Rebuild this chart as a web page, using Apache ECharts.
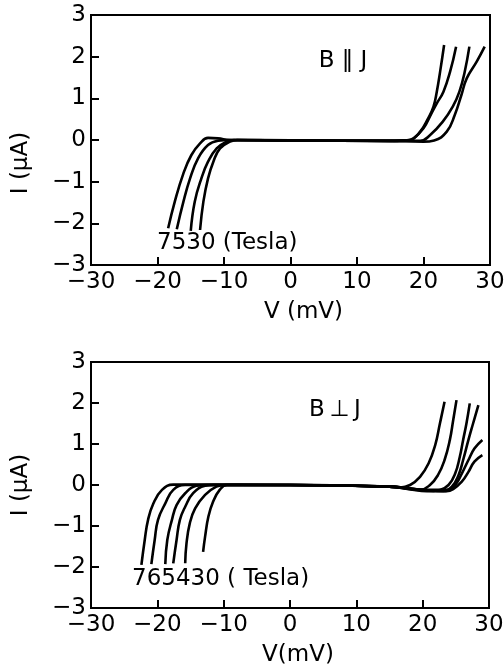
<!DOCTYPE html>
<html>
<head>
<meta charset="utf-8">
<script src="https://cdn.jsdelivr.net/npm/echarts@6/dist/echarts.min.js"></script>
<style>
html,body{margin:0;padding:0;background:#fff;}
#charts{width:504px;height:664px;}
</style>
</head>
<body>
<div id="charts"></div>
<script>
// B || J  (field in Tesla), points are [V (mV), I (uA)]
let par7 = [[-18.4,-2.12],[-17.4,-1.48],[-16.1,-0.8],[-14.9,-0.36],[-13.6,-0.08],[-12.4,0.05],[-10.9,0.04],[-9.1,0],[0,-0.01],[15,-0.02],[20.0,-0.04],[21.6,-0.01],[23.5,0.2],[24.7,0.6],[25.7,1.08],[26.5,1.48],[28.0,1.88],[29.2,2.24]];
let par5 = [[-17.1,-2.14],[-16.1,-1.48],[-15.1,-0.92],[-13.9,-0.44],[-12.4,-0.12],[-10.9,-0.02],[-9.1,0],[0,-0.01],[15,-0.02],[19.5,-0.02],[21.0,0.12],[22.9,0.44],[24.4,0.8],[25.4,1.16],[26.2,1.64],[26.9,2.24]];
let par3 = [[-15.0,-2.18],[-14.4,-1.48],[-13.4,-0.92],[-12.4,-0.52],[-11.1,-0.2],[-9.6,-0.04],[-8.5,0],[0,-0.01],[15,-0.02],[17.5,-0.01],[18.5,0.04],[20.0,0.28],[21.2,0.64],[22.0,0.88],[23.0,1.16],[24.0,1.64],[24.9,2.24]];
let par0 = [[-13.6,-2.16],[-13.1,-1.48],[-12.4,-0.92],[-11.6,-0.52],[-10.6,-0.2],[-9.1,-0.04],[-8,0],[0,-0.01],[15,-0.02],[17.0,-0.01],[18.0,0],[19.5,0.2],[20.7,0.52],[21.5,0.8],[22.0,1.16],[22.5,1.64],[23.1,2.28]];

// B _|_ J
let perp7 = [[-22.4,-1.95],[-21.9,-1.34],[-21.4,-0.85],[-20.6,-0.45],[-19.3,-0.12],[-17.6,0.01],[-15.6,0.01],[0,0],[15,-0.04],[20,-0.12],[23.6,-0.15],[24.6,-0.1],[25.9,0.08],[26.9,0.32],[27.8,0.57],[29.0,0.73]];
let perp6 = [[-20.9,-1.93],[-20.4,-1.34],[-19.9,-0.85],[-18.8,-0.45],[-17.6,-0.12],[-15.8,0],[-14,0],[0,0],[15,-0.04],[20,-0.12],[23.6,-0.12],[24.9,0],[25.9,0.28],[26.9,0.61],[27.8,0.89],[29.0,1.1]];
let perp5 = [[-18.8,-1.93],[-18.5,-1.34],[-17.8,-0.85],[-17.1,-0.49],[-15.8,-0.2],[-14.1,-0.02],[-12.5,0],[0,0],[15,-0.04],[18,-0.08],[21.6,-0.15],[23.1,-0.15],[24.4,-0.04],[25.4,0.24],[26.1,0.61],[26.9,1.1],[27.6,1.5],[28.4,1.95]];
let perp4 = [[-17.6,-1.91],[-17.1,-1.34],[-16.6,-0.85],[-15.8,-0.53],[-14.6,-0.2],[-12.8,-0.02],[-11.5,0],[0,0],[15,-0.04],[18,-0.1],[20.6,-0.15],[22.6,-0.12],[23.9,0],[24.9,0.28],[25.6,0.69],[26.1,1.1],[26.6,1.5],[27.1,1.99]];
let perp3 = [[-15.8,-1.91],[-15.6,-1.42],[-15.1,-0.93],[-14.3,-0.57],[-12.8,-0.24],[-11.1,-0.04],[-9.8,0],[0,0],[15,-0.04],[17.6,-0.08],[19.6,-0.12],[21.1,0],[22.3,0.24],[23.3,0.61],[24.1,1.1],[24.6,1.58],[25.1,2.07]];
let perp0 = [[-13.1,-1.63],[-12.8,-1.26],[-12.3,-0.77],[-11.6,-0.41],[-10.6,-0.12],[-9.5,0],[0,0],[15,-0.04],[16.6,-0.06],[18.1,0],[19.6,0.2],[20.9,0.53],[21.9,0.98],[22.6,1.5],[23.3,2.03]];

let parCurves = [par7, par5, par3, par0];
let perpCurves = [perp7, perp6, perp5, perp4, perp3, perp0];

let font = 'DejaVu Sans';
let minus = (v) => String(v).replace('-', '\u2212');

function xAx(idx, name, gap, shift){
    return {
        gridIndex: idx, type: 'value', min: -30, max: 30, interval: 10,
        name: name, nameLocation: 'middle', nameGap: gap,
        nameTextStyle: {color: '#000', fontSize: 23, fontFamily: font, padding: [0, 0, 0, shift]},
        axisLine: {onZero: false, lineStyle: {color: '#000', width: 2}},
        axisTick: {inside: true, length: 8, lineStyle: {color: '#000', width: 2}},
        axisLabel: {color: '#000', fontSize: 23, fontFamily: font, margin: 6, formatter: minus},
        splitLine: {show: false}
    };
}
function yAx(idx, shift){
    return {
        gridIndex: idx, type: 'value', min: -3, max: 3, interval: 1,
        name: 'I (\u03bcA)', nameLocation: 'middle', nameGap: 58,
        nameTextStyle: {color: '#000', fontSize: 23, fontFamily: font, padding: [0, shift, 0, 0]},
        axisLine: {onZero: false, lineStyle: {color: '#000', width: 2}},
        axisTick: {inside: true, length: 8, lineStyle: {color: '#000', width: 2}},
        axisLabel: {color: '#000', fontSize: 23, fontFamily: font, margin: 5, formatter: minus},
        splitLine: {show: false}
    };
}
function lineSeries(data, idx){
    return {
        type: 'line', xAxisIndex: idx, yAxisIndex: idx, data: data,
        smooth: 0.45, showSymbol: false, silent: true,
        lineStyle: {color: '#000', width: 2.6}
    };
}

let myChart = echarts.init(document.getElementById('charts'));
let series = [];
parCurves.map((c) => series.push(lineSeries(c, 0)));
perpCurves.map((c) => series.push(lineSeries(c, 1)));

let txt = (x, y, s, align) => ({
    type: 'text', x: x, y: y,
    style: {text: s, fill: '#000', font: '23px "DejaVu Sans"', textAlign: align, textVerticalAlign: 'middle'}
});

let option = {
    animation: false,
    backgroundColor: '#fff',
    grid: [
        {left: 91, top: 15, width: 399, height: 250, show: true, borderColor: '#000', borderWidth: 2, outerBoundsMode: 'none'},
        {left: 91, top: 362, width: 398, height: 246, show: true, borderColor: '#000', borderWidth: 2, outerBoundsMode: 'none'}
    ],
    xAxis: [xAx(0, 'V (mV)', 36, 26), xAx(1, 'V(mV)', 36, 16)],
    yAxis: [yAx(0, 46), yAx(1, 0)],
    graphic: [
        txt(343, 61, 'B \u2016 J', 'center'),
        txt(335, 410, 'B\u2009\u22a5\u2009J', 'center'),
        txt(157, 243, '7530 (Tesla)', 'left'),
        txt(132, 579, '765430 ( Tesla)', 'left')
    ],
    series: series
};
myChart.setOption(option);
</script>
</body>
</html>
